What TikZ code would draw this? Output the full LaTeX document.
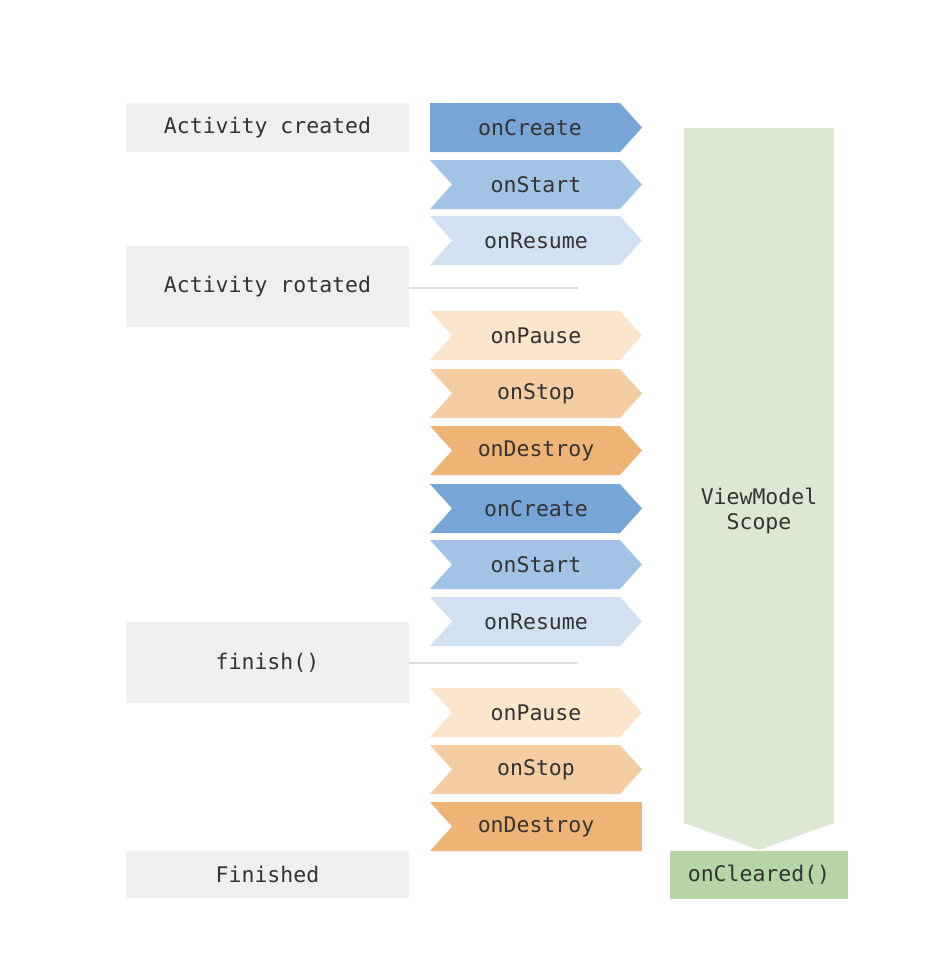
\documentclass[tikz,border=0pt]{standalone}
\usepackage{fontspec}
\setmonofont{DejaVu Sans Mono}
\usepackage{tikz}
\usetikzlibrary{shapes.symbols, positioning}

\definecolor{boxgray}{HTML}{EFEFEF}
\definecolor{linegray}{HTML}{DEDEDE}
\definecolor{createblue}{HTML}{77A5D6}
\definecolor{startblue}{HTML}{A3C3E6}
\definecolor{resumeblue}{HTML}{D1E1F1}
\definecolor{pauseorange}{HTML}{FCE5CD}
\definecolor{stoporange}{HTML}{F5CDA2}
\definecolor{destroyorange}{HTML}{EEB475}
\definecolor{scopegreen}{HTML}{DDE8D4}
\definecolor{clearedgreen}{HTML}{B8D5A8}
\definecolor{txt}{HTML}{333333}

\begin{document}
\begin{tikzpicture}[
  x=1pt, y=-1pt,
  every node/.style={font=\ttfamily\fontsize{21.5}{25}\selectfont, text=txt},
  state/.style={fill=boxgray, minimum width=283pt, inner sep=0pt},
  cb/.style={signal, signal to=east, signal from=west, signal pointer angle=96,
    minimum width=212pt, minimum height=49pt, inner sep=0pt, fill=#1},
  sep/.style={draw=linegray, line width=1.5pt}
]
\useasboundingbox (0,0) rectangle (932,978);

% activity states
\node[state, minimum height=49pt] (Created) at (267.5,127.5) {Activity created};
\node[state, minimum height=81pt] (Rotated) at (267.5,286.5) {Activity rotated};
\node[state, minimum height=81pt] (Finish) at (267.5,662.5) {finish()};
\node[state, minimum height=47pt] (Finished) at (267.5,874.5) {Finished};

% callbacks
\node[cb=createblue, signal from=nowhere] (Create1) at (525,127.5) {\hspace{10pt}onCreate};
\node[cb=startblue] (Start1) at (536,184.5) {onStart};
\node[cb=resumeblue] (Resume1) at (536,240.5) {onResume};
\node[cb=pauseorange] (Pause1) at (536,335.5) {onPause};
\node[cb=stoporange] (Stop1) at (536,393.5) {onStop};
\node[cb=destroyorange] (Destroy1) at (536,450.5) {onDestroy};
\node[cb=createblue] (Create2) at (536,508.5) {onCreate};
\node[cb=startblue] (Start2) at (536,564.5) {onStart};
\node[cb=resumeblue] (Resume2) at (536,621.5) {onResume};
\node[cb=pauseorange] (Pause2) at (536,712.5) {onPause};
\node[cb=stoporange] (Stop2) at (536,769.5) {onStop};
\node[cb=destroyorange, signal to=nowhere] (Destroy2) at (547,826.5) {onDestroy\kern22pt\relax};

% separators
\coordinate (RotEnd) at (578,288);
\coordinate (FinEnd) at (578,663);
\draw[sep] (Rotated.east |- RotEnd) -- (RotEnd);
\draw[sep] (Finish.east |- FinEnd) -- (FinEnd);

% viewmodel scope
\fill[scopegreen] (684,128) -- (834,128) -- (834,823) -- (759,850) -- (684,823) -- cycle;
\node[align=center] (Scope) at (759,511) {ViewModel\\Scope};
\node[fill=clearedgreen, minimum width=178pt, minimum height=48pt, inner sep=0pt] (Cleared) at (759,874.5) {onCleared()};

\end{tikzpicture}
\end{document}
